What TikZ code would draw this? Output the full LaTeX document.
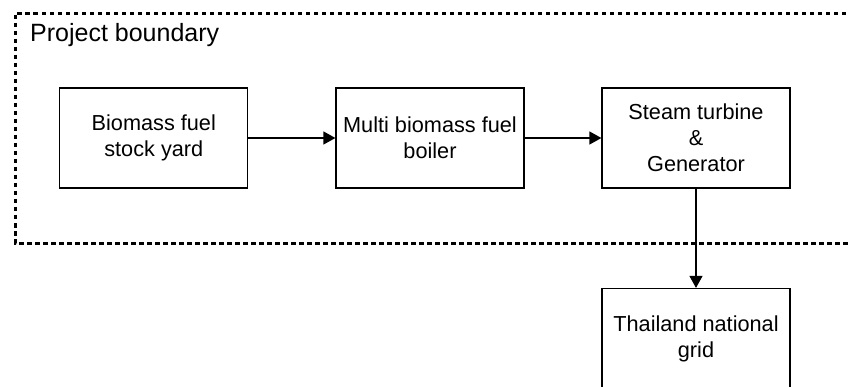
\documentclass[tikz,border=0pt]{standalone}
\usepackage{fontspec}
\setmainfont{Liberation Sans}
\usetikzlibrary{arrows.meta}
\begin{document}
\begin{tikzpicture}[x=1pt,y=-1pt,
  stagebox/.style={draw=black, line width=1.2pt, minimum width=188pt,
    minimum height=100pt, inner sep=0pt, align=center,
    font=\fontsize{21.7pt}{26pt}\selectfont},
  flow/.style={line width=1.2pt, -{Triangle[length=12pt,width=13pt]}},
  boundary/.style={line width=3.4pt, dash pattern=on 4.5pt off 3.5pt}]
\useasboundingbox (0,0) rectangle (848,387);
\clip (0,0) rectangle (848,387);
% dotted project boundary, open towards the right
\draw[boundary] (870,13.5) -- (15.5,13.5) -- (15.5,243.5) -- (870,243.5);
\node[anchor=base west, font=\fontsize{25pt}{30pt}\selectfont, inner sep=0pt]
  (title) at (30,42) {Project boundary};
% process stages
\node[stagebox] (yard) at (153.8,138) {Biomass fuel\\stock yard};
\node[stagebox] (boiler) at (430,138) {Multi biomass fuel\\boiler};
\node[stagebox] (turbine) at (696,138) {Steam turbine\\\&\\Generator};
\node[stagebox] (grid) at (696,338.5) {Thailand national\\grid};
% flows
\draw[flow] (yard) -- (boiler);
\draw[flow] (boiler) -- (turbine);
\draw[flow] (turbine) -- (grid);
\end{tikzpicture}
\end{document}
